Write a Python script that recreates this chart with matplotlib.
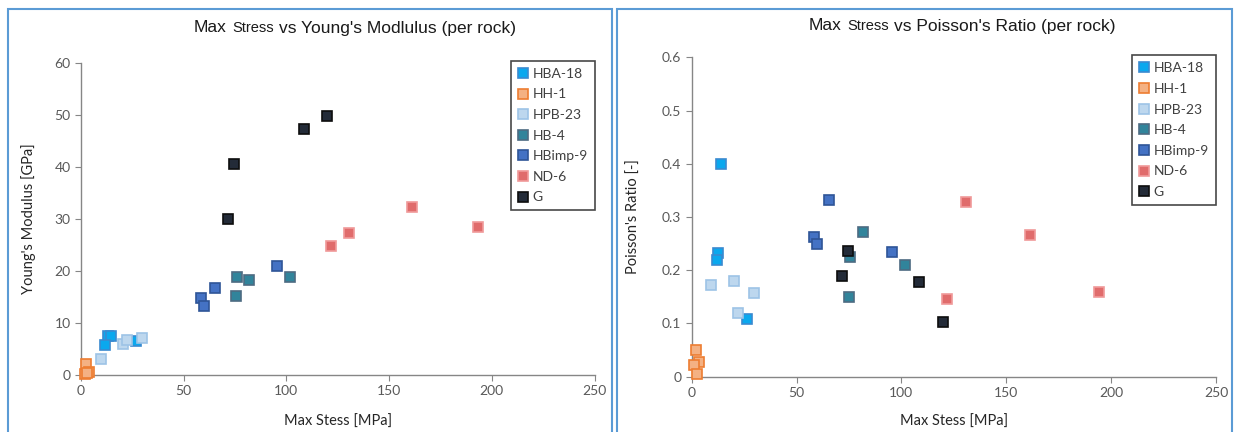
import matplotlib
matplotlib.use('Agg')
import matplotlib.pyplot as plt
from matplotlib.patches import Rectangle
from matplotlib.ticker import FuncFormatter
from matplotlib.offsetbox import TextArea, HPacker, AnchoredOffsetbox

# Rock names and marker colours (face, edge)
rocks = ['HBA-18', 'HH-1', 'HPB-23', 'HB-4', 'HBimp-9', 'ND-6', 'G']
faces = ['#0aa8ee', '#f4b183', '#bdd7ee', '#31849b', '#4472c4', '#e06c6c', '#232b38']
edges = ['#3a8ad0', '#ed7d31', '#9dc3e6', '#4d6b82', '#2f5597', '#f09a9a', '#0d0d0d']

# Max stress vs Young's modulus
stress_E = {
    'HBA-18': [13.3, 14.4, 11.8, 26.9],
    'HH-1': [2.6, 3.7, 1.8, 2.8],
    'HPB-23': [9.9, 20.6, 22.2, 29.7],
    'HB-4': [75.9, 81.6, 101.6, 75.3],
    'HBimp-9': [95.4, 65.1, 58.6, 59.9],
    'ND-6': [130.3, 121.6, 161.0, 193.1],
    'G': [119.6, 108.4, 74.3, 71.7],
}
youngs = {
    'HBA-18': [7.5, 7.5, 5.8, 6.5],
    'HH-1': [2.2, 0.6, 0.25, 0.4],
    'HPB-23': [3.1, 5.9, 6.7, 7.2],
    'HB-4': [18.9, 18.2, 18.8, 15.2],
    'HBimp-9': [20.9, 16.8, 14.8, 13.2],
    'ND-6': [27.3, 24.7, 32.3, 28.5],
    'G': [49.8, 47.3, 40.6, 29.9],
}

# Max stress vs Poisson's ratio
stress_nu = {
    'HBA-18': [13.9, 12.6, 11.9, 26.6],
    'HH-1': [2.2, 3.3, 1.3, 2.4],
    'HPB-23': [9.4, 20.4, 22.0, 29.6],
    'HB-4': [81.8, 75.6, 101.9, 75.2],
    'HBimp-9': [65.4, 58.3, 59.9, 95.6],
    'ND-6': [130.6, 161.5, 121.5, 194.0],
    'G': [74.5, 71.5, 108.4, 119.7],
}
poisson = {
    'HBA-18': [0.400, 0.233, 0.219, 0.109],
    'HH-1': [0.051, 0.028, 0.022, 0.006],
    'HPB-23': [0.172, 0.180, 0.120, 0.157],
    'HB-4': [0.271, 0.224, 0.210, 0.149],
    'HBimp-9': [0.332, 0.263, 0.249, 0.234],
    'ND-6': [0.329, 0.266, 0.146, 0.159],
    'G': [0.237, 0.189, 0.178, 0.103],
}

W, H = 1237, 432
fig = plt.figure(figsize=(W / 100, H / 100), dpi=100)

body_font = 'Lato'
title_font = 'Liberation Sans'

# panel borders
for x0, x1 in [(8, 612), (617, 1232)]:
    fig.add_artist(Rectangle((x0 / W, -0.1), (x1 - x0) / W, 1.1 - 9 / H,
                             transform=fig.transFigure, fill=False,
                             edgecolor='#5b9bd5', linewidth=1.5, clip_on=False))


def mixed_title(xc, yc, rest):
    tp = dict(family=title_font, color='#1a1a1a')
    parts = [TextArea('Max', textprops=dict(size=12.5, **tp)),
             TextArea('Stress', textprops=dict(size=10.5, **tp)),
             TextArea(rest, textprops=dict(size=12.5, **tp))]
    box = HPacker(children=parts, align='baseline', pad=0, sep=4)
    ab = AnchoredOffsetbox(loc='center', child=box, pad=0, borderpad=0,
                           bbox_to_anchor=(xc / W, 1 - yc / H),
                           bbox_transform=fig.transFigure, frameon=False)
    fig.add_artist(ab)


def style_axes(ax, xs, ys, xlim, ylim, yticks, ylabel, ylab_x, xlab_y, fmt):
    for name, fc, ec in zip(rocks, faces, edges):
        ax.plot(xs[name], ys[name], linestyle='none', marker='s', ms=7.5,
                mfc=fc, mec=ec, mew=1.2, label=name, clip_on=False, zorder=3)
    ax.set_xlim(*xlim)
    ax.set_ylim(*ylim)
    ax.set_xticks([0, 50, 100, 150, 200, 250])
    ax.set_yticks(yticks)
    ax.yaxis.set_major_formatter(FuncFormatter(fmt))
    for s in ['top', 'right']:
        ax.spines[s].set_visible(False)
    for s in ['left', 'bottom']:
        ax.spines[s].set_color('#868686')
        ax.spines[s].set_linewidth(1)
    ax.tick_params(direction='out', length=4, color='#868686',
                   labelsize=10, labelcolor='#595959')
    for lab in ax.get_xticklabels() + ax.get_yticklabels():
        lab.set_family(body_font)
    ax.set_xlabel('Max Stess [MPa]', family=body_font, fontsize=10.5, color='#262626')
    ax.set_ylabel(ylabel, family=body_font, fontsize=10.5, color='#262626')
    ax.yaxis.set_label_coords(ylab_x, 0.5)
    ax.xaxis.set_label_coords(0.5, xlab_y)
    leg = ax.legend(loc='upper right', bbox_to_anchor=(1.0, 1.006), borderaxespad=0,
                    fancybox=False, frameon=True, handlelength=0.7, handletextpad=0.35,
                    borderpad=0.5, labelspacing=0.62,
                    prop=dict(family=body_font, size=10))
    leg.get_frame().set_edgecolor('#1a1a1a')
    leg.get_frame().set_linewidth(1.2)
    for t in leg.get_texts():
        t.set_color('#404040')


ax1 = fig.add_axes([81 / W, 1 - 375 / H, 513.5 / W, 312.3 / H])
style_axes(ax1, stress_E, youngs, (0, 250), (0, 60), range(0, 61, 10),
           "Young's Modulus [GPa]", -0.088, -0.128, lambda v, p: '%d' % v)
mixed_title(355, 28, "vs Young's Modlulus (per rock)")

ax2 = fig.add_axes([691.7 / W, 1 - 376.7 / H, 524.3 / W, 319.4 / H])
style_axes(ax2, stress_nu, poisson, (0, 250), (0, 0.6),
           [0, 0.1, 0.2, 0.3, 0.4, 0.5, 0.6],
           "Poisson's Ratio [-]", -0.097, -0.120, lambda v, p: '%g' % round(v, 2))
mixed_title(962, 26, "vs Poisson's Ratio (per rock)")

fig.savefig('out.png', dpi=100)
